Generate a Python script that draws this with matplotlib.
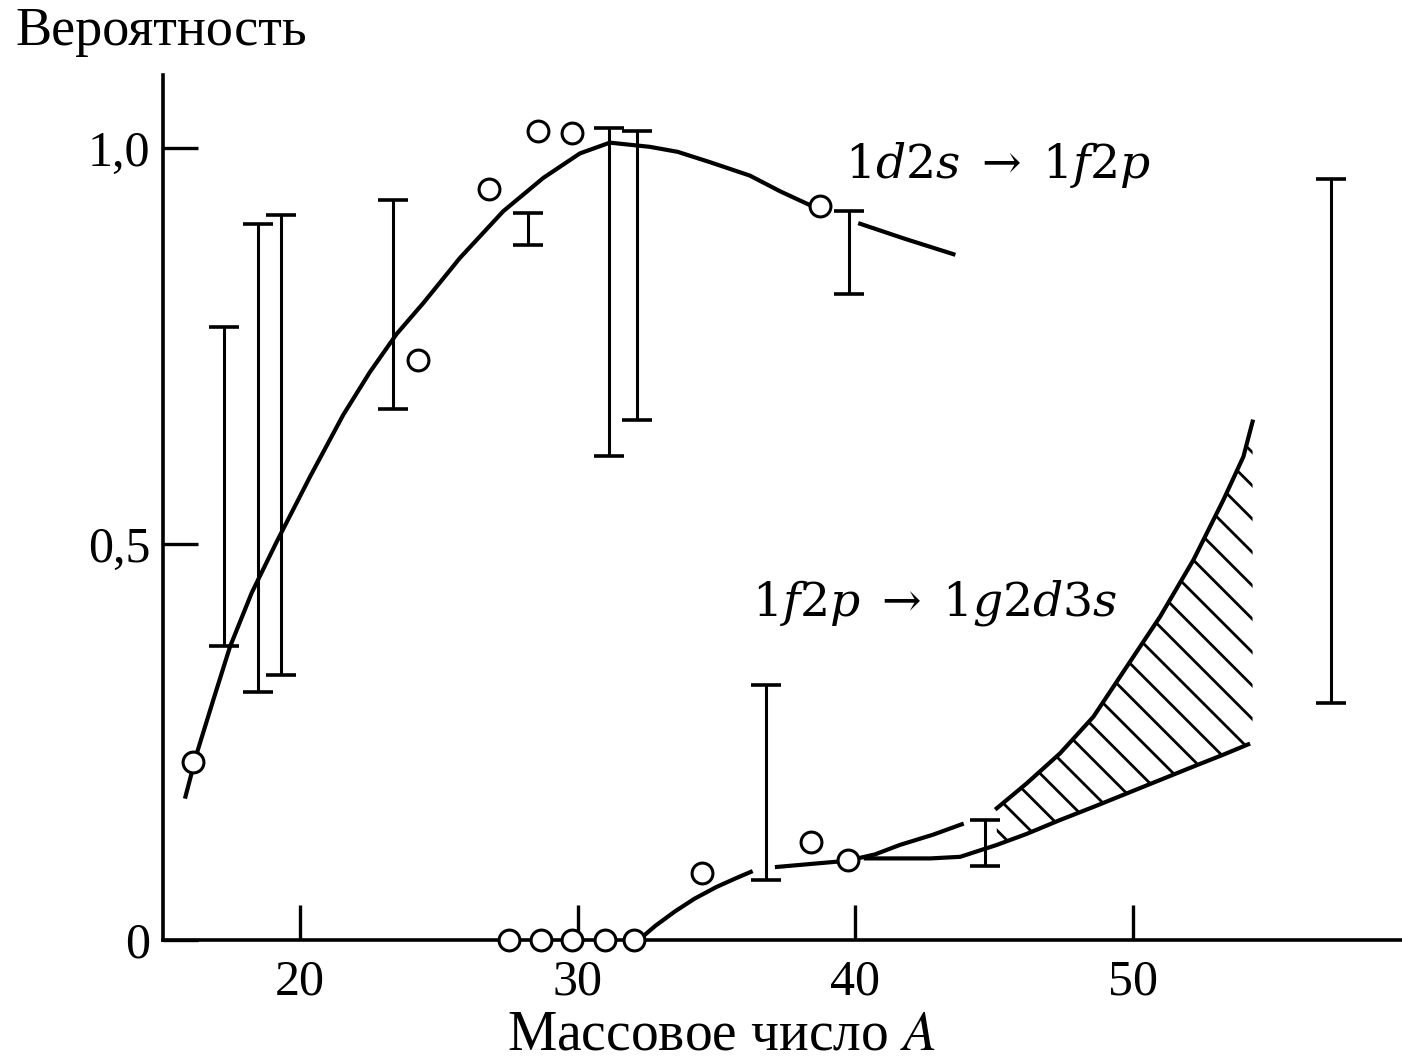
import numpy as np
import matplotlib
matplotlib.use('Agg')
from matplotlib import pyplot as plt

plt.rcParams['font.family'] = ['Liberation Serif', 'DejaVu Serif']
plt.rcParams['mathtext.fontset'] = 'stix'
plt.rcParams['hatch.linewidth'] = 2.0

# upper curve 1d2s -> 1f2p (two pieces, gap at the error bar near A=39.5)
up1_x = [15.86, 16.28, 16.88, 17.48, 18.26, 19.16, 20.36, 21.56, 22.52, 23.48, 24.44, 25.76, 27.32, 28.76,
         30.08, 31.16, 32.6, 33.6, 34.76, 36.2, 37.3, 38.47]
up1_y = [0.1785, 0.2348, 0.303, 0.370, 0.438, 0.5025, 0.5846, 0.663, 0.717, 0.765, 0.804, 0.861, 0.920, 0.962,
         0.993, 1.0066, 1.0013, 0.995, 0.982, 0.965, 0.945, 0.926]
up2_x = [40.1, 41.8, 43.6]
up2_y = [0.905, 0.885, 0.865]

# lower curve 1f2p -> 1g2d3s
lo1_x = [32.2, 32.8, 33.5, 34.2, 35.0, 35.7, 36.3]
lo1_y = [0.0, 0.018, 0.036, 0.052, 0.067, 0.078, 0.087]
lo2_x = [37.1, 38.4, 39.7, 40.7, 41.6, 42.8, 43.9]
lo2_y = [0.092, 0.096, 0.100, 0.108, 0.12, 0.133, 0.147]
lo3_x = [40.3, 41.4, 42.7, 43.77, 45.09, 46.17, 47.37, 48.57, 49.77, 50.97, 52.17, 53.25, 54.21]
lo3_y = [0.103, 0.103, 0.103, 0.105, 0.12, 0.134, 0.1515, 0.168, 0.185, 0.202, 0.219, 0.234, 0.248]

# hatched band
band_x = [45.09, 46.17, 47.37, 48.57, 49.77, 50.97, 52.17, 53.25, 53.97, 54.3]
band_lo = [0.12, 0.134, 0.1515, 0.168, 0.185, 0.202, 0.219, 0.234, 0.244, 0.249]
band_hi = [0.1663, 0.1978, 0.2357, 0.2819, 0.3451, 0.4082, 0.4798, 0.5556, 0.6102, 0.6544]

# circles
pt_x = [16.15, 24.25, 26.8, 28.57, 29.8, 38.72, 27.53, 28.68, 29.79, 30.98, 32.03, 34.48, 38.4, 39.73]
pt_y = [0.225, 0.732, 0.948, 1.021, 1.019, 0.926, 0.0, 0.0, 0.0, 0.0, 0.0, 0.085, 0.124, 0.101]

# error bars (position, lower end, upper end)
eb_x = [17.26, 18.49, 19.32, 23.35, 28.21, 31.13, 32.14, 39.77, 57.13, 36.78, 44.67]
eb_lo = [0.371, 0.313, 0.335, 0.670, 0.878, 0.611, 0.657, 0.816, 0.299, 0.076, 0.093]
eb_hi = [0.774, 0.904, 0.915, 0.934, 0.918, 1.025, 1.021, 0.920, 0.961, 0.322, 0.152]

fig = plt.figure(figsize=(14.02, 10.59), dpi=100)
ax = fig.add_axes([163/1402, 1 - 940/1059, 1 - 163/1402, (940 - 75)/1059])

lw = 3.0
for xs, ys in [(up1_x, up1_y), (up2_x, up2_y), (lo1_x, lo1_y), (lo2_x, lo2_y), (lo3_x, lo3_y)]:
    ax.plot(xs, ys, color='black', lw=lw, solid_capstyle='butt', solid_joinstyle='round', zorder=3)
ax.plot(band_x, band_hi, color='black', lw=lw, solid_joinstyle='round', zorder=3)
ax.fill_between(band_x, band_lo, band_hi, facecolor='none', edgecolor='black',
                hatch='\\', linewidth=0, zorder=2)

eb_lo = np.array(eb_lo)
eb_hi = np.array(eb_hi)
mid = (eb_lo + eb_hi) / 2
ax.errorbar(eb_x, mid, yerr=(eb_hi - eb_lo) / 2, fmt='none', ecolor='black',
            elinewidth=2.2, capsize=11, capthick=2.6, zorder=3)

ax.plot(pt_x, pt_y, 'o', ms=15, mfc='white', mec='black', mew=2.2, zorder=5, clip_on=False)

ax.set_xlim(15.07, 59.68)
ax.set_ylim(0, 1.092)
ax.spines['top'].set_visible(False)
ax.spines['right'].set_visible(False)
for s in ['left', 'bottom']:
    ax.spines[s].set_linewidth(2.6)

ax.set_xticks([20, 30, 40, 50])
ax.set_xticklabels(['20', '30', '40', '50'])
ax.set_yticks([0, 0.5, 1.0])
ax.set_yticklabels(['0', '0,5', '1,0'])
ax.tick_params(direction='in', length=25, width=2.4, labelsize=36)
ax.tick_params(axis='x', pad=14)
ax.tick_params(axis='y', pad=9)

fig.text(0.5 * (508 + 935) / 1402, 1 - 1035 / 1059, 'Массовое число $A$',
         fontsize=40, ha='center', va='center')
fig.text(15 / 1402, 1 - 32 / 1059, 'Вероятность', fontsize=39, ha='left', va='center')

fig.text(845 / 1402, 1 - 165 / 1059, r'$1d2s\;\rightarrow\;1f2p$', math_fontfamily='dejavuserif',
         fontsize=34, ha='left', va='center')
fig.text(752 / 1402, 1 - 603 / 1059, r'$1f2p\;\rightarrow\;1g2d3s$', math_fontfamily='dejavuserif',
         fontsize=34, ha='left', va='center')

fig.savefig('out.png', dpi=100, facecolor='white')
